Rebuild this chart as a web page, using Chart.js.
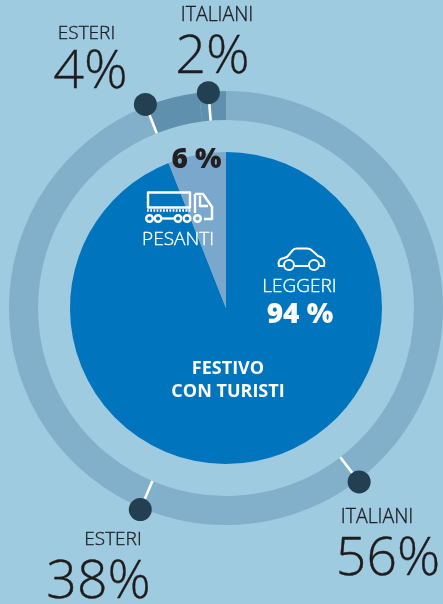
<!DOCTYPE html>
<html><head><meta charset="utf-8">
<style>html,body{margin:0;padding:0;background:#9fcbe0;overflow:hidden}#w{position:relative;width:443px;height:604px}canvas{display:block}</style>
<script src="https://cdn.jsdelivr.net/npm/chart.js@4/dist/chart.umd.min.js"></script>
</head><body><div id="w"><canvas id="c" width="443" height="604"></canvas></div>
<script>
const ringLabels = ["Italiani 56%", "Esteri 38%", "Esteri 4%", "Italiani 2%"];
const ringValues = [56, 38, 4, 2];
const pieLabels = ["Leggeri", "Pesanti"];
const pieValues = [94, 6];
const markerPercents = [39.6, 56.4, 94, 98.7];
const FONT = '"Open Sans"';
const texts = [
  ["ESTERI", 86.5, 39, "300 19px", "#1f1f24"], ["4%", 90.5, 88, "300 54px", "#1f1c1d"],
  ["ITALIANI", 217, 21, "300 19.5px", "#1f1f24"], ["2%", 212.5, 73, "300 54px", "#1f1c1d"],
  ["ITALIANI", 377, 523, "300 19.5px", "#1f1f24"], ["56%", 388, 575, "300 53.5px", "#1f1c1d"],
  ["ESTERI", 113, 545, "300 19px", "#1f1f24"], ["38%", 98.5, 598, "300 53.5px", "#1f1c1d"],
  ["6 %", 196.5, 168, "800 28px", "#231f20"],
  ["PESANTI", 178, 245, "300 19px", "#ffffff"],
  ["LEGGERI", 299.5, 292, "300 19px", "#ffffff"],
  ["94 %", 300, 323, "800 28px", "#ffffff"],
  ["FESTIVO", 228, 374, "700 18px", "#ffffff"],
  ["CON TURISTI", 228, 397, "700 18px", "#ffffff"]
];
function icons(ctx){
  ctx.save(); ctx.strokeStyle="#fff"; ctx.lineWidth=2.4; ctx.lineJoin="round";
  // truck
  ctx.strokeRect(148,192.5,42,15);
  ctx.beginPath(); ctx.moveTo(147,210.5); ctx.lineTo(191,210.5); ctx.setLineDash([1.8,1.4]); ctx.stroke(); ctx.setLineDash([]);
  ctx.beginPath(); ctx.moveTo(195,194); ctx.lineTo(203,194); ctx.lineTo(212,207); ctx.lineTo(212,219); ctx.lineTo(204,219); ctx.moveTo(195,213); ctx.lineTo(195,194); ctx.stroke();
  ctx.beginPath(); ctx.moveTo(200,196); ctx.lineTo(200,206); ctx.lineTo(208,206); ctx.stroke();
  [149.5,158,178,187,197.5].forEach(x=>{ctx.beginPath();ctx.arc(x,218.5,3.3,0,7);ctx.stroke();});
  ctx.beginPath(); ctx.moveTo(162,218.5);ctx.lineTo(174,218.5);ctx.stroke();
  // car
  ctx.lineWidth=2;
  ctx.beginPath(); ctx.moveTo(283,266); ctx.lineTo(279,266); ctx.quadraticCurveTo(277,259,284,258);
  ctx.lineTo(287,257); ctx.lineTo(293,250); ctx.quadraticCurveTo(294,248.5,297,248.5); ctx.lineTo(307,248.5);
  ctx.quadraticCurveTo(310,248.5,312,250.5); ctx.lineTo(318,256); ctx.quadraticCurveTo(326,258,324,266);
  ctx.lineTo(320,266); ctx.moveTo(308,266); ctx.lineTo(295,266); ctx.stroke();
  [289,314].forEach(x=>{ctx.beginPath();ctx.arc(x,265,5,0,7);ctx.stroke();});
  ctx.restore();
}
const overlay = {
  id:"overlay",
  afterDatasetsDraw(chart){
    const ctx = chart.ctx, arc = chart.getDatasetMeta(0).data[0];
    const cx = arc.x, cy = arc.y, R = arc.outerRadius, r = arc.innerRadius;
    markerPercents.forEach(p=>{
      const a = p/100*Math.PI*2 - Math.PI/2, c = Math.cos(a), s = Math.sin(a);
      const dot = p > 98 ? R-1 : R+2;
      ctx.strokeStyle="#fff"; ctx.lineWidth=2.6;
      ctx.beginPath(); ctx.moveTo(cx+c*r,cy+s*r); ctx.lineTo(cx+c*dot,cy+s*dot); ctx.stroke();
      ctx.fillStyle="#233f52";
      ctx.beginPath(); ctx.arc(cx+c*dot, cy+s*dot, 11.5, 0, 7); ctx.fill();
    });
    icons(ctx);
    ctx.textAlign="center"; ctx.textBaseline="alphabetic";
    ctx.lineJoin="round";
    texts.forEach(([t,x,y,f,col])=>{
      ctx.font=f+" "+FONT; ctx.fillStyle=col; ctx.fillText(t,x,y);
      if (f.startsWith("300")) { ctx.strokeStyle=col; ctx.lineWidth=0.35; ctx.strokeText(t,x,y); }
    });
  }
};
new Chart(document.getElementById("c"),{
  type:"doughnut",
  data:{labels:ringLabels,datasets:[
    {data:ringValues,backgroundColor:["#82afc9","#82afc9","#5f90ad","#5f90ad"],borderWidth:0,weight:29},
    {data:[100],backgroundColor:"rgba(0,0,0,0)",borderWidth:0,weight:32},
    {data:pieValues,backgroundColor:["#0075bd","#7aa8cd"],borderWidth:0,weight:156}
  ]},
  options:{responsive:false,animation:false,cutout:0,
    layout:{padding:{left:9,right:0,top:91,bottom:79}},
    plugins:{legend:{display:false},tooltip:{enabled:false},title:{display:false}}},
  plugins:[overlay]
});
</script></body></html>
